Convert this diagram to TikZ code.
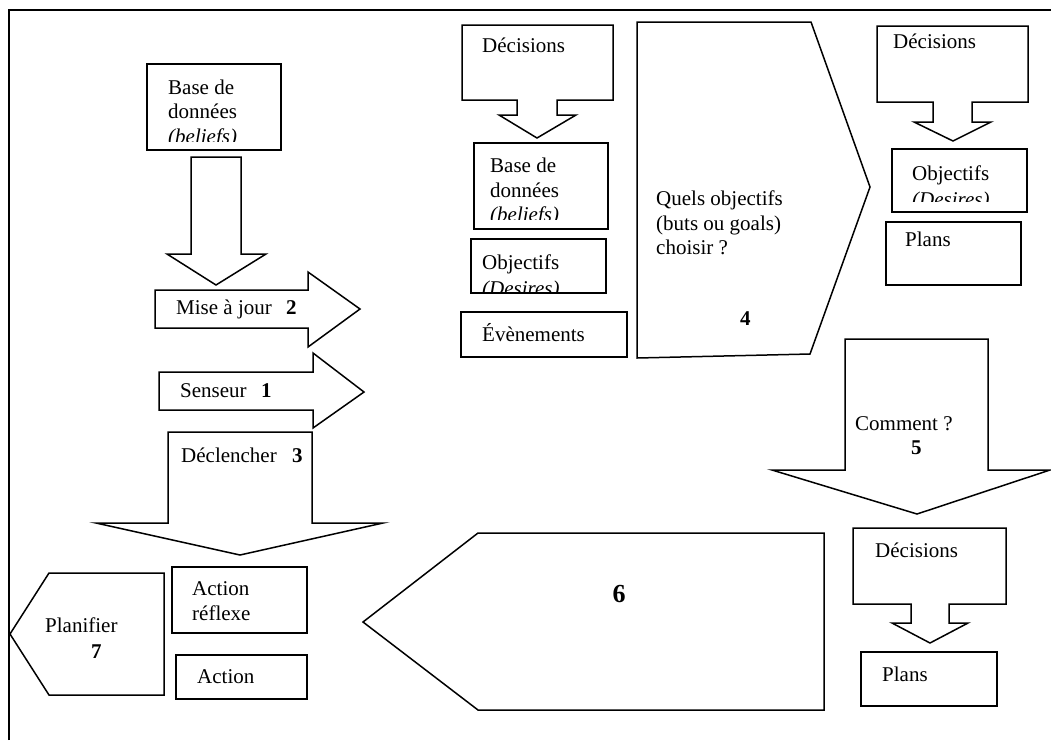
\documentclass[tikz,border=0pt]{standalone}
\usepackage{fontspec}
\setmainfont{Liberation Serif}
\tikzset{
  shp/.style={draw=black, line width=1.5pt, line join=miter, fill=white},
  frame/.style={draw=black, line width=2.2pt},
  lbl/.style={anchor=mid west, inner sep=0pt, yshift=-3pt, font=\fontsize{21}{24}\selectfont},
  num/.style={anchor=mid west, inner sep=0pt, yshift=-3pt, font=\fontsize{21}{24}\selectfont\bfseries},
  bignum/.style={anchor=center, inner sep=0pt, font=\fontsize{26}{30}\selectfont\bfseries},
}
\begin{document}
\begin{tikzpicture}[x=1pt,y=-1pt]
\useasboundingbox[fill=white] (0,0) rectangle (1051,740);
% frame
\draw[frame] (9,740) -- (9,10) -- (1051,10);

% ---------- left column ----------
\draw[shp] (147,64) rectangle (281,150);
\node[lbl] (bd1a) at (168,89) {Base de};
\node[lbl] (bd1b) at (168,113) {données};
\begin{scope}
  \clip (148,65) rectangle (280,141);
  \node[lbl] (bd1c) at (168,138) {\itshape (beliefs)};
\end{scope}

\draw[shp] (191,157) -- (241,157) -- (241,254) -- (266,254) -- (216,285) -- (167,254) -- (191,254) -- cycle;

\draw[shp] (155,290) -- (308,290) -- (308,272) -- (360,309) -- (308,347) -- (308,328) -- (155,328) -- cycle;
\node[lbl] (maj) at (176,309) {Mise à jour};
\node[num] (n2) at (286,309) {2};

\draw[shp] (159,372) -- (313,372) -- (313,353) -- (364,392) -- (313,428) -- (313,410) -- (159,410) -- cycle;
\node[lbl] (sens) at (180,392) {Senseur};
\node[num] (n1) at (261,392) {1};

\draw[shp] (168,432) -- (312,432) -- (312,523) -- (383,523) -- (240,555) -- (96,523) -- (168,523) -- cycle;
\node[lbl] (decl) at (181,457) {Déclencher};
\node[num] (n3) at (292,457) {3};

\draw[shp] (10,634) -- (49,573) -- (164,573) -- (164,695) -- (49,695) -- cycle;
\node[lbl] (plan) at (45,627) {Planifier};
\node[num] (n7) at (91,653) {7};

\draw[shp] (172,567) rectangle (307,633);
\node[lbl] (ar1) at (192,590) {Action};
\node[lbl] (ar2) at (192,615) {réflexe};

\draw[shp] (176,655) rectangle (307,699);
\node[lbl] (act) at (197,678) {Action};

% ---------- arrow 6 ----------
\draw[shp] (363,622) -- (478,533) -- (824,533) -- (824,710) -- (478,710) -- cycle;
\node[bignum] (n6) at (619,594) {6};

% ---------- middle top ----------
\draw[shp] (462,25) -- (613,25) -- (613,100) -- (557,100) -- (557,115) -- (576,115) -- (537,138) -- (499,115) -- (517,115) -- (517,100) -- (462,100) -- cycle;
\node[lbl] (dec1) at (482,47) {Décisions};

\draw[shp] (474,143) rectangle (608,229);
\node[lbl] (bd2a) at (490,167) {Base de};
\node[lbl] (bd2b) at (490,192) {données};
\begin{scope}
  \clip (475,144) rectangle (607,219);
  \node[lbl] (bd2c) at (490,216) {\itshape (beliefs)};
\end{scope}

\draw[shp] (471,239) rectangle (606,293);
\node[lbl] (obj1a) at (482,264) {Objectifs};
\begin{scope}
  \clip (472,240) rectangle (605,292);
  \node[lbl] (obj1b) at (482,290) {\itshape (Desires)};
\end{scope}

\draw[shp] (461,312) rectangle (627,357);
\node[lbl] (evt) at (482,336) {Évènements};

% ---------- big arrow 4 ----------
\draw[shp] (637,22) -- (811,22) -- (870,187) -- (810,354) -- (637,358) -- cycle;
\node[lbl] (q1) at (656,200) {Quels objectifs};
\node[lbl] (q2) at (656,225) {(buts ou goals)};
\node[lbl] (q3) at (656,249) {choisir ?};
\node[num] (n4) at (740,320) {4};

% ---------- right top ----------
\draw[shp] (877,26) -- (1028,26) -- (1028,102) -- (972,102) -- (972,122) -- (991,122) -- (953,141) -- (914,122) -- (933,122) -- (933,102) -- (877,102) -- cycle;
\node[lbl] (dec2) at (893,43) {Décisions};

\draw[shp] (892,149) rectangle (1027,212);
\node[lbl] (obj2a) at (912,175) {Objectifs};
\begin{scope}
  \clip (893,150) rectangle (1026,201);
  \node[lbl] (obj2b) at (912,201) {\itshape (Desires)};
\end{scope}

\draw[shp] (886,222) rectangle (1021,285);
\node[lbl] (pl1) at (905,241) {Plans};

% ---------- Comment ? 5 ----------
\draw[shp] (845,339) -- (988,339) -- (988,470) -- (1050,470) -- (917,514) -- (772,470) -- (845,470) -- cycle;
\node[lbl] (comm) at (855,425) {Comment ?};
\node[num] (n5) at (911,449) {5};

% ---------- right bottom ----------
\draw[shp] (853,528) -- (1006,528) -- (1006,604) -- (949,604) -- (949,623) -- (968,623) -- (930,643) -- (892,623) -- (911,623) -- (911,604) -- (853,604) -- cycle;
\node[lbl] (dec3) at (875,552) {Décisions};

\draw[shp] (861,652) rectangle (997,706);
\node[lbl] (pl2) at (882,676) {Plans};
\end{tikzpicture}
\end{document}
